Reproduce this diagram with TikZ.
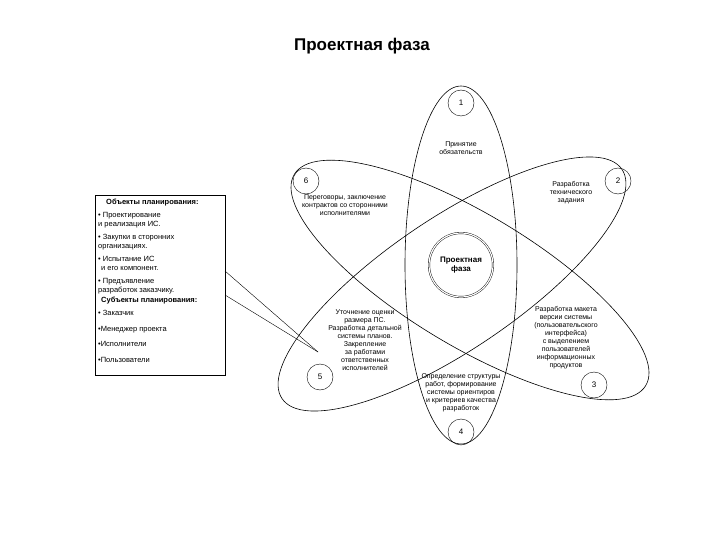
\documentclass[tikz,border=0pt]{standalone}
\usepackage{fontspec}
\setmainfont{Liberation Sans}
\begin{document}
\begin{tikzpicture}[x=1pt,y=-1pt,
  petal/.style={draw,line width=0.6pt},
  num/.style={draw,circle,minimum size=26pt,inner sep=0pt,font=\fontsize{8}{9}\selectfont},
  lbl/.style={align=center,font=\fontsize{7}{8}\selectfont,inner sep=0pt},
  box/.style={align=left,font=\fontsize{7.5}{9.5}\selectfont}]
\useasboundingbox (0,0) rectangle (720,540);
\node (title) at (362,46) {\fontsize{17}{20}\selectfont\bfseries Проектная фаза};
\coordinate (c) at (461,265);
\coordinate (c25) at (470,280);
\coordinate (c63) at (452,284);
\draw[petal] (c) ellipse [x radius=56,y radius=179];
\draw[petal,rotate around={-31:(c25)}] (c25) ellipse [x radius=205,y radius=66];
\draw[petal,rotate around={34:(c63)}] (c63) ellipse [x radius=205,y radius=66];
\node[draw,circle,minimum size=64pt,inner sep=0pt,double,double distance=1.2pt,align=center,font=\fontsize{8}{9}\selectfont\bfseries] (core) at (c) {Проектная\\фаза};
\node[num] (n1) at (461,103) {1};
\node[num] (n2) at (618,181) {2};
\node[num] (n3) at (594,385) {3};
\node[num] (n4) at (461,432) {4};
\node[num] (n5) at (320,377) {5};
\node[num] (n6) at (306,181) {6};
\node[lbl] (t1) at (461,148) {Принятие\\обязательств};
\node[lbl] (t2) at (571,193) {Разработка\\технического\\задания};
\node[lbl] (t6) at (345,205) {Переговоры, заключение\\контрактов со сторонними\\исполнителями};
\node[lbl] (t5) at (365,340) {Уточнение оценки\\размера ПС.\\Разработка детальной\\системы планов.\\Закрепление\\за работами\\ответственных\\исполнителей};
\node[lbl] (t3) at (566,338) {Разработка макета\\версии системы\\(пользовательского\\интерфейса)\\с выделением\\пользователей\\информационных\\продуктов};
\node[lbl] (t4) at (461,393) {Определение структуры\\работ, формирование\\системы ориентиров\\и критериев качества\\разработок};
\draw (95,195) rectangle (225,375);
\node[box,anchor=north west,inner sep=0pt] (b) at (98,199) {%
\hspace*{8pt}\textbf{Объекты планирования:}\\[3pt]
\textbullet\ Проектирование\\и реализация ИС.\\[3pt]
\textbullet\ Закупки в сторонних\\организациях.\\[3pt]
\textbullet\ Испытание ИС\\\hspace*{3pt}и его компонент.\\[3pt]
\textbullet\ Предъявление\\разработок заказчику.\\
\hspace*{3pt}\textbf{Субъекты планирования:}\\[4pt]
\textbullet\ Заказчик\\[6pt]
\textbullet Менеджер проекта\\[6pt]
\textbullet Исполнители\\[6pt]
\textbullet Пользователи};
\coordinate (tip) at (318,352);
\draw (225,271) -- (tip);
\draw (225,295) -- (tip);
\end{tikzpicture}
\end{document}
